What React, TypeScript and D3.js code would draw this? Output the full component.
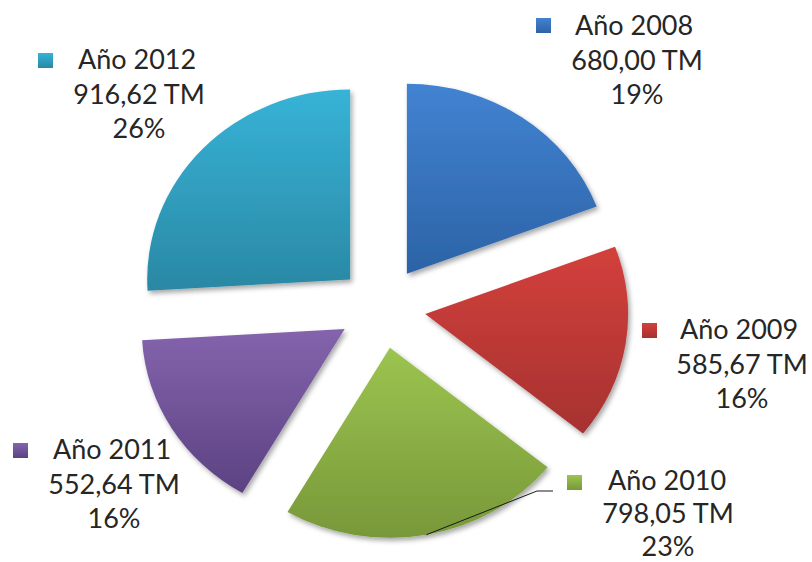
import React from "react";
import * as d3 from "d3";

const years = ["Año 2008", "Año 2009", "Año 2010", "Año 2011", "Año 2012"];
const values = [680.0, 585.67, 798.05, 552.64, 916.62];
const percentLabels = ["19%", "16%", "23%", "16%", "26%"];
const colorsTop = ["#4283d2", "#d3403c", "#9cc450", "#8464ad", "#37b3d7"];
const colorsBottom = ["#2c63a6", "#a63230", "#789839", "#5c4282", "#2a88a4"];

// label layout: key square x,y ; first line text start x ; centre x of lines 2-3 ; baseline of line 1 ; line spacing
const labelLayout = [
  { kx: 536, ky: 18, tx: 575, cx: 637, by: 35, ls: 34.5 },
  { kx: 642, ky: 323, tx: 680, cx: 742, by: 339, ls: 34.5 },
  { kx: 567, ky: 475, tx: 608, cx: 668, by: 490, ls: 33 },
  { kx: 13, ky: 443, tx: 53, cx: 114, by: 459, ls: 34.5 },
  { kx: 38, ky: 53, tx: 78, cx: 139, by: 69, ls: 34.5 },
];

const W = 812;
const H = 562;
const CX = 382;
const CY = 307.5;
const R = 190;
const SX = 1.068;
const EXPLODE = 41;

const fmt = (v: number) => d3.format(",.2f")(v).replace(",", " ").replace(".", ",") + " TM";

export default function App() {
  const pie = d3
    .pie<number>()
    .sort(null)
    .value((d) => d)
    .startAngle(0)
    .endAngle(2 * Math.PI);
  const arcs = pie(values);
  const arc = d3.arc<d3.PieArcDatum<number>>().innerRadius(0).outerRadius(R);

  const offset = (a: d3.PieArcDatum<number>) => {
    const m = (a.startAngle + a.endAngle) / 2;
    return [Math.sin(m) * EXPLODE, -Math.cos(m) * EXPLODE];
  };

  // leader line for 2010 (index 2)
  const g = arcs[2];
  const gm = (g.startAngle + g.endAngle) / 2;
  const [gox, goy] = offset(g);
  const leadEnd = [CX + (gox + Math.sin(gm) * R) * SX, CY + goy - Math.cos(gm) * R];

  return (
    <svg width={W} height={H} style={{ position: "absolute", left: 0, top: 0, background: "#fff" }}>
      <defs>
        {years.map((_, i) => (
          <linearGradient key={i} id={`grad${i}`} x1="0" y1="0" x2="0" y2="1">
            <stop offset="0%" stopColor={colorsTop[i]} />
            <stop offset="100%" stopColor={colorsBottom[i]} />
          </linearGradient>
        ))}
        <filter id="shadow" x="-20%" y="-20%" width="140%" height="140%">
          <feDropShadow dx="2" dy="3" stdDeviation="2.5" floodColor="#000" floodOpacity="0.35" />
        </filter>
      </defs>
      <rect width={W} height={H} fill="#fff" />
      <g transform={`translate(${CX},${CY}) scale(${SX},1)`}>
        {arcs.map((a, i) => {
          const [ox, oy] = offset(a);
          return (
            <path
              key={i}
              d={arc(a) || ""}
              transform={`translate(${ox},${oy})`}
              fill={`url(#grad${i})`}
              filter="url(#shadow)"
            />
          );
        })}
      </g>
      <polyline
        points={`553,491 537,491 ${leadEnd[0]},${leadEnd[1]}`}
        fill="none"
        stroke="#1a1a1a"
        strokeWidth={1}
      />
      <g fontFamily="Lato, 'Open Sans', sans-serif" fontSize={27} fill="#262626">
        {years.map((y, i) => {
          const L = labelLayout[i];
          return (
            <g key={i}>
              <rect x={L.kx} y={L.ky} width={15} height={15} fill={`url(#grad${i})`} />
              <text x={L.tx} y={L.by}>
                {y}
              </text>
              <text x={L.cx} y={L.by + L.ls} textAnchor="middle">
                {fmt(values[i])}
              </text>
              <text x={L.cx} y={L.by + 2 * L.ls} textAnchor="middle">
                {percentLabels[i]}
              </text>
            </g>
          );
        })}
      </g>
    </svg>
  );
}
